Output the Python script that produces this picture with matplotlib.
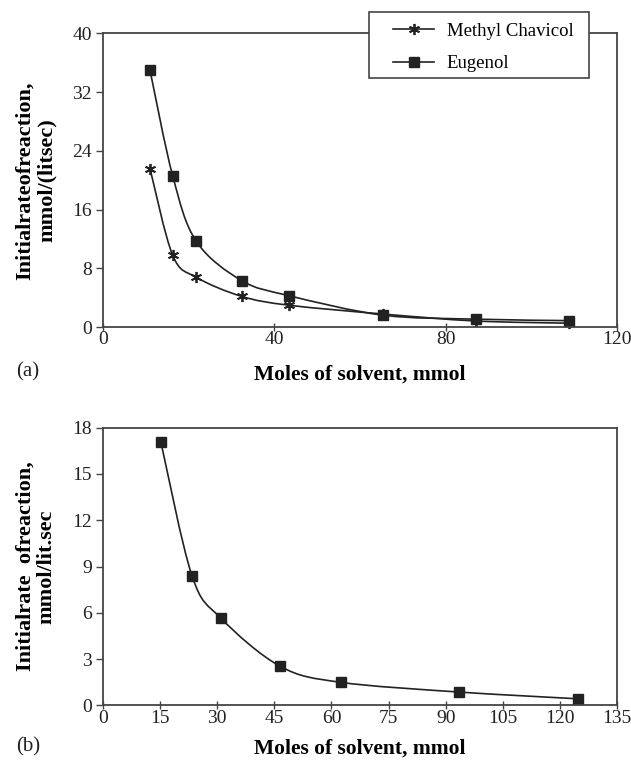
import numpy as np
import matplotlib.pyplot as plt
from matplotlib.path import Path
from matplotlib.patches import PathPatch, Rectangle
from matplotlib.lines import Line2D

# panel (a)
solvent_a = [11, 16.3, 21.8, 32.4, 43.4, 65.3, 87.0, 108.8]
eugenol_a = [35.0, 20.6, 11.7, 6.35, 4.3, 1.65, 1.1, 0.9]
chavicol_a = [21.6, 9.8, 6.8, 4.2, 3.0, 1.8, 0.85, 0.55]

# panel (b)
solvent_b = [15.2, 23.4, 31.0, 46.6, 62.4, 93.4, 124.8]
rate_b = [17.1, 8.4, 5.65, 2.53, 1.5, 0.87, 0.43]

xticks_a = [0, 40, 80, 120]
yticks_a = [0, 8, 16, 24, 32, 40]
xticks_b = [0, 15, 30, 45, 60, 75, 90, 105, 120, 135]
yticks_b = [0, 3, 6, 9, 12, 15, 18]

plt.rcParams['font.family'] = ['Liberation Serif', 'DejaVu Serif']
INK = '#222222'
EDGE = '#444444'


def smooth_line(ax, x, y):
    # excel-like smoothed line: catmull-rom -> cubic bezier segments
    pts = np.column_stack([np.asarray(x, float), np.asarray(y, float)])
    verts = [pts[0]]
    codes = [Path.MOVETO]
    n = len(pts)
    for i in range(n - 1):
        p0 = pts[i - 1] if i > 0 else pts[i]
        p1 = pts[i]
        p2 = pts[i + 1]
        p3 = pts[i + 2] if i + 2 < n else pts[i + 1]
        verts += [p1 + (p2 - p0) / 6.0, p2 - (p3 - p1) / 6.0, p2]
        codes += [Path.CURVE4] * 3
    ax.add_patch(PathPatch(Path(verts, codes), fc='none', ec=INK, lw=1.2))


def style_axes(ax, xticks, yticks):
    for s in ax.spines.values():
        s.set_color(EDGE)
        s.set_linewidth(1.3)
    ax.set_xticks(xticks)
    ax.set_yticks(yticks)
    ax.set_xlim(xticks[0], xticks[-1])
    ax.set_ylim(yticks[0], yticks[-1])
    ax.tick_params(axis='x', direction='inout', length=6, width=1, labelsize=14, pad=0, colors=EDGE, labelcolor=INK)
    ax.tick_params(axis='y', direction='out', length=5, width=1, labelsize=14, pad=3, colors=EDGE, labelcolor=INK)


def add_labels(ax, ylabel, xlab_y):
    ax.set_ylabel(ylabel, fontsize=16, fontweight='bold', linespacing=1.1, va='center')
    ax.yaxis.set_label_coords(-0.13, 0.5)
    ax.set_xlabel('Moles of solvent, mmol', fontsize=15.5, fontweight='bold', va='center')
    ax.xaxis.set_label_coords(0.5, xlab_y)


fig = plt.figure(figsize=(6.31, 7.61), dpi=100)

ax1 = fig.add_axes([0.163, 0.570, 0.815, 0.386])
style_axes(ax1, xticks_a, yticks_a)
smooth_line(ax1, solvent_a, chavicol_a)
smooth_line(ax1, solvent_a, eugenol_a)
ax1.plot(solvent_a, chavicol_a, ls='none', marker=(6, 2, 0), ms=8, mew=1.3, color=INK, clip_on=False)
ax1.plot(solvent_a, eugenol_a, ls='none', marker='s', ms=6.5, color=INK, clip_on=False)
add_labels(ax1, 'Initialrateofreaction,\nmmol/(litsec)', -0.16)

# legend with a wider hand-drawn frame
fig.add_artist(Rectangle((0.585, 0.8975), 0.348, 0.0867, transform=fig.transFigure,
                         fc='white', ec=EDGE, lw=1.2, zorder=5))
handles = [
    Line2D([], [], color=INK, lw=1.2, marker=(6, 2, 0), ms=8, mew=1.3),
    Line2D([], [], color=INK, lw=1.2, marker='s', ms=6.5),
]
leg = fig.legend(handles, ['Methyl Chavicol', 'Eugenol'], loc='upper left',
                 bbox_to_anchor=(0.623, 0.970), fontsize=13.5, frameon=False,
                 handlelength=2.2, borderpad=0, labelspacing=0.82, handletextpad=0.65, borderaxespad=0)
leg.set_zorder(6)
fig.text(0.025, 0.511, '(a)', fontsize=15, color=INK, va='center')

ax2 = fig.add_axes([0.163, 0.073, 0.815, 0.365])
style_axes(ax2, xticks_b, yticks_b)
smooth_line(ax2, solvent_b, rate_b)
ax2.plot(solvent_b, rate_b, ls='none', marker='s', ms=7, color=INK, clip_on=False)
add_labels(ax2, 'Initialrate  ofreaction,\nmmol/lit.sec', -0.157)
fig.text(0.025, 0.019, '(b)', fontsize=15, color=INK, va='center')

fig.savefig('out.png', dpi=100)
